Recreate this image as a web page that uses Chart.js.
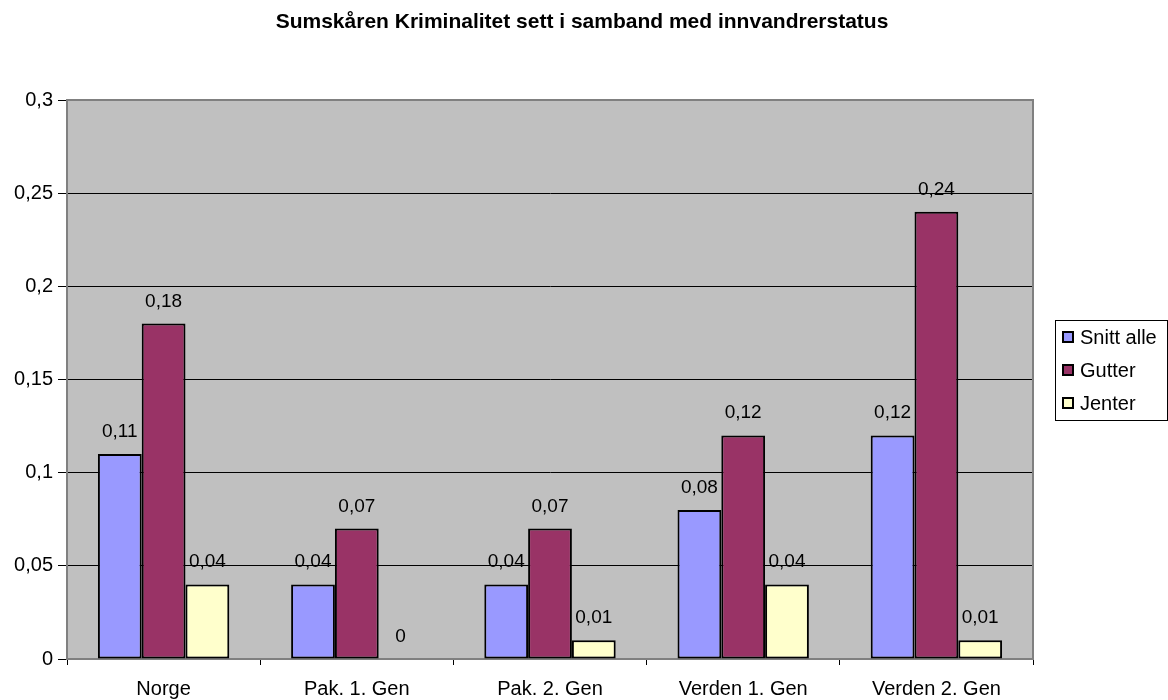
<!DOCTYPE html>
<html>
<head>
<meta charset="utf-8">
<script src="https://cdn.jsdelivr.net/npm/chart.js@4"></script>
<style>
  html, body { margin: 0; padding: 0; background: #fff; }
  #wrap { width: 1168px; height: 700px; }
</style>
</head>
<body>
<div id="wrap"><canvas id="chart" width="1168" height="700"></canvas></div>
<script>
// data
const categories = ["Norge", "Pak. 1. Gen", "Pak. 2. Gen", "Verden 1. Gen", "Verden 2. Gen"];
const seriesNames = ["Snitt alle", "Gutter", "Jenter"];
const snittAlle = [0.11, 0.04, 0.04, 0.08, 0.12];
const gutter = [0.18, 0.07, 0.07, 0.12, 0.24];
const jenter = [0.04, 0, 0.01, 0.04, 0.01];
const yTicks = [0, 0.05, 0.1, 0.15, 0.2, 0.25, 0.3];

const colors = ["#9999ff", "#993366", "#ffffcc"];
const titleText = "Sumskåren Kriminalitet sett i samband med innvandrerstatus";
const FONT = "'Liberation Sans', Arial, sans-serif";

function comma(v) {
    return String(Math.round(v * 100) / 100).replace(".", ",");
}

// grey plot area + border
const plotBg = {
    id: "plotBg",
    beforeDraw(chart) {
        const a = chart.chartArea;
        const ctx = chart.ctx;
        ctx.save();
        ctx.fillStyle = "#c0c0c0";
        ctx.fillRect(a.left, a.top, a.right - a.left, a.bottom - a.top);
        ctx.restore();
    },
    afterDraw(chart) {
        const a = chart.chartArea;
        const ctx = chart.ctx;
        ctx.save();
        ctx.strokeStyle = "#808080";
        ctx.lineWidth = 2;
        ctx.beginPath();
        ctx.moveTo(a.left, a.bottom);
        ctx.lineTo(a.left, a.top);
        ctx.lineTo(a.right, a.top);
        ctx.lineTo(a.right, a.bottom);
        ctx.stroke();
        ctx.restore();
    }
};

// value labels above bars
const valueLabels = {
    id: "valueLabels",
    afterDatasetsDraw(chart) {
        const ctx = chart.ctx;
        ctx.save();
        ctx.font = "19px " + FONT;
        ctx.fillStyle = "#000";
        ctx.textAlign = "center";
        ctx.textBaseline = "alphabetic";
        chart.data.datasets.forEach((ds, i) => {
            chart.getDatasetMeta(i).data.forEach((bar, j) => {
                ctx.fillText(comma(ds.data[j]), bar.x, bar.y - 17);
            });
        });
        ctx.restore();
    }
};

// title + legend box
const extras = {
    id: "extras",
    afterDraw(chart) {
        const ctx = chart.ctx;
        ctx.save();
        ctx.fillStyle = "#000";
        ctx.font = "bold 21px " + FONT;
        ctx.textAlign = "center";
        ctx.textBaseline = "alphabetic";
        ctx.fillText(titleText, 582, 28);

        ctx.fillStyle = "#fff";
        ctx.strokeStyle = "#000";
        ctx.lineWidth = 1;
        ctx.fillRect(1055.5, 320.5, 112, 100);
        ctx.strokeRect(1055.5, 320.5, 112, 100);

        const rows = [337, 370, 403];
        ctx.font = "20px " + FONT;
        ctx.textAlign = "left";
        ctx.textBaseline = "middle";
        chart.data.datasets.forEach((ds, i) => {
            ctx.fillStyle = ds.backgroundColor;
            ctx.fillRect(1063, rows[i] - 5, 10, 10);
            ctx.lineWidth = 2;
            ctx.strokeRect(1063, rows[i] - 5, 10, 10);
            ctx.fillStyle = "#000";
            ctx.fillText(ds.label, 1080, rows[i] + 1);
        });
        ctx.restore();
    }
};

new Chart(document.getElementById("chart"), {
    type: "bar",
    data: {
        labels: categories,
        datasets: [
            { label: seriesNames[0], data: snittAlle, backgroundColor: colors[0] },
            { label: seriesNames[1], data: gutter, backgroundColor: colors[1] },
            { label: seriesNames[2], data: jenter, backgroundColor: colors[2] }
        ].map(d => Object.assign(d, {
            borderColor: "#000",
            borderWidth: 2,
            borderSkipped: false,
            categoryPercentage: 0.68,
            barPercentage: 1
        }))
    },
    options: {
        responsive: false,
        animation: false,
        layout: { padding: { top: 100, right: 135, left: 0, bottom: 0 } },
        plugins: {
            legend: { display: false },
            title: { display: false },
            tooltip: { enabled: false }
        },
        scales: {
            x: {
                grid: {
                    offset: true,
                    drawOnChartArea: false,
                    tickLength: 6,
                    color: "#000"
                },
                border: { color: "#808080", width: 2 },
                ticks: {
                    color: "#000",
                    font: { family: FONT, size: 20 },
                    padding: 12
                },
                afterFit(scale) { scale.height = 41; }
            },
            y: {
                min: 0,
                max: 0.3,
                afterBuildTicks(scale) {
                    scale.ticks = yTicks.map(v => ({ value: v }));
                },
                grid: {
                    color: ctx => (ctx.tick && (ctx.tick.value === 0 || ctx.tick.value === 0.3)) ? "rgba(0,0,0,0)" : "#000",
                    tickColor: "#000",
                    tickLength: 9,
                    lineWidth: 1
                },
                border: { color: "#808080", width: 2 },
                ticks: {
                    color: "#000",
                    font: { family: FONT, size: 20 },
                    padding: 5,
                    callback: v => comma(v)
                },
                afterFit(scale) { scale.width = 67; }
            }
        }
    },
    plugins: [plotBg, valueLabels, extras]
});
</script>
</body>
</html>
